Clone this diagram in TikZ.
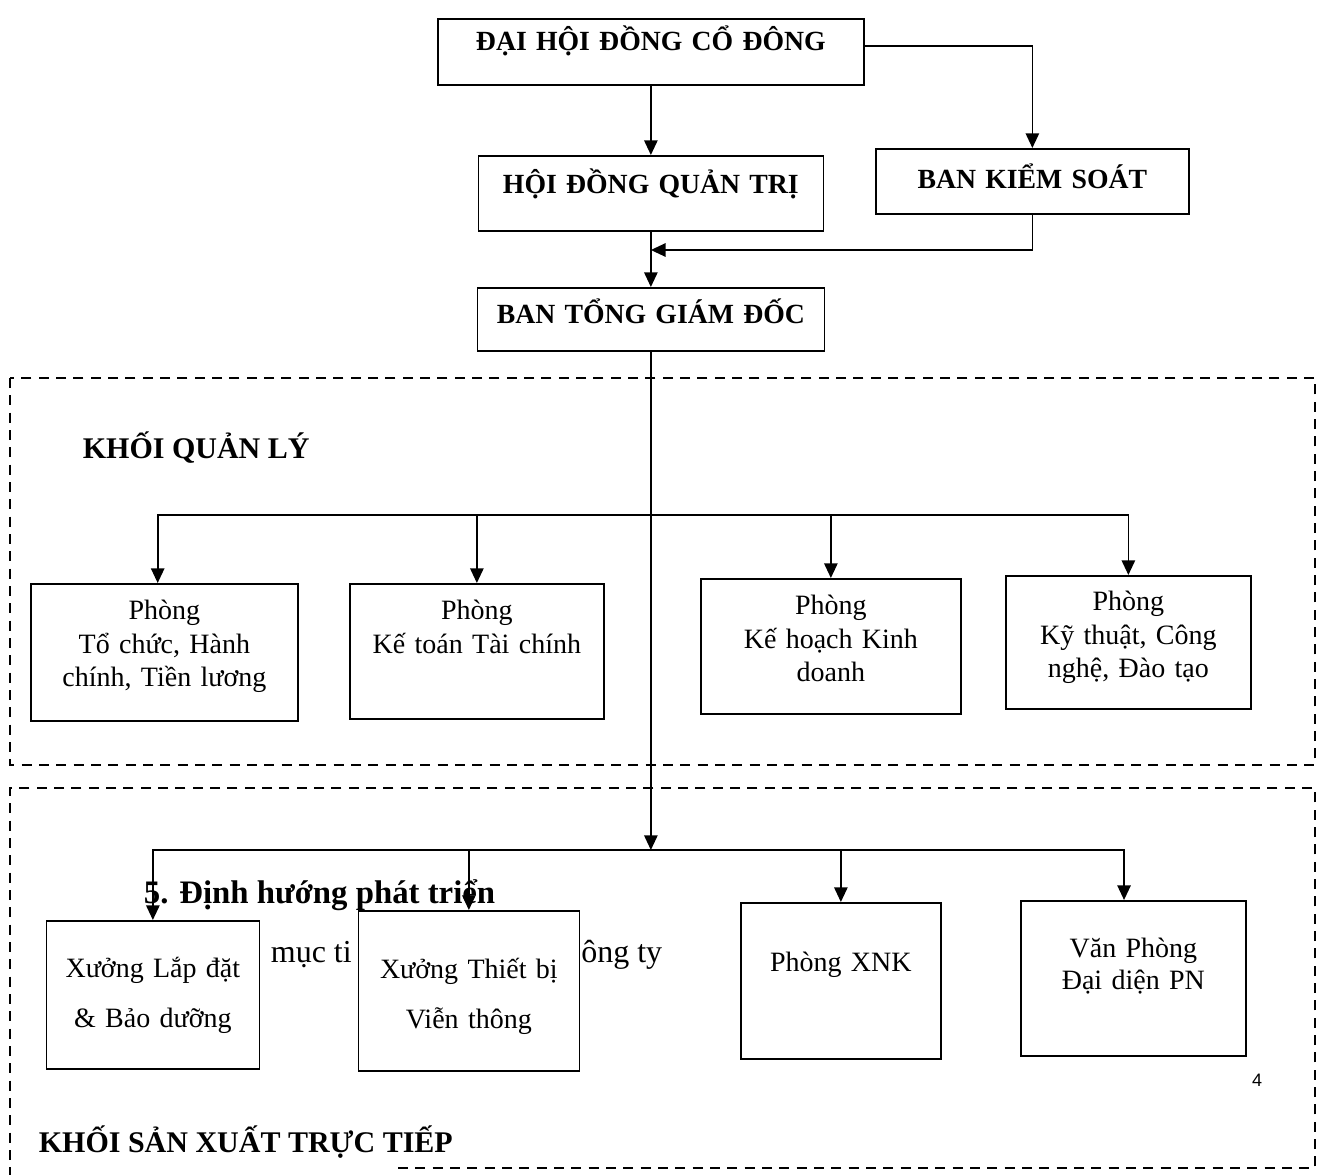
\documentclass[tikz,border=0pt]{standalone}
\usepackage{fontspec}
\setmainfont{Liberation Serif}
\newfontfamily\numfont{Liberation Sans}
\usetikzlibrary{arrows.meta,positioning}

\begin{document}
\begin{tikzpicture}[x=0.75pt,y=-0.75pt,line width=1.3pt,>={Triangle[length=11pt,width=10pt]},
	unitbox/.style={draw, fill=white, anchor=north west, inner sep=0pt, align=center},
	headbox/.style={unitbox, font=\bfseries\fontsize{20.8}{25}\selectfont},
	deptbox/.style={unitbox, font=\fontsize{21}{25}\selectfont},
	dashframe/.style={line width=1.2pt, dash pattern=on 7.5pt off 5.5pt},
	blocklabel/.style={anchor=base west, inner sep=0pt, font=\bfseries\fontsize{22.5}{27}\selectfont},
	stray/.style={inner sep=0pt, font=\fontsize{24}{29}\selectfont}]
		\useasboundingbox (0,0) rectangle (1320,1175);

		\draw[dashframe] (10,378) rectangle (1315,765);
		\draw[dashframe] (398,1168) -- (1315,1168) -- (1315,788) -- (10,788) -- (10,1175);
		\node[blocklabel] (ql) at (82,458) {KHỐI QUẢN LÝ};
		\node[blocklabel] (sx) at (38,1152) {KHỐI SẢN XUẤT TRỰC TIẾP};

		\node[stray, anchor=base west, font=\bfseries\fontsize{24.6}{29}\selectfont] (dinhhuong) at (143,903) {5. Định hướng phát triển};
		\node[stray, anchor=base west] (muctieu) at (270,962) {mục ti};
		\node[stray, anchor=base east] (congty) at (663,962) {ông ty};
		\node[stray, font=\numfont\fontsize{13.5}{16}\selectfont] (trang) at (1257,1080) {4};

		\node[headbox, text width=319.5pt, text height=24pt, text depth=25.5pt] (dhdcd) at (437,18) {ĐẠI HỘI ĐỒNG CỔ ĐÔNG};
		\node[headbox, text width=258.75pt, text height=28pt, text depth=28.25pt] (hdqt) at (477.5,155) {HỘI ĐỒNG QUẢN TRỊ};
		\node[headbox, text width=234.75pt, text height=30pt, text depth=18.75pt] (bks) at (875,148) {BAN KIỂM SOÁT};
		\node[headbox, text width=260.25pt, text height=27pt, text depth=20.25pt] (btgd) at (476.5,287) {BAN TỔNG GIÁM ĐỐC};

		\node[deptbox, text width=200.25pt, text height=27pt, text depth=75.75pt] (tochuc) at (30,583) {Phòng\\Tổ chức, Hành\\chính, Tiền lương};
		\node[deptbox, text width=190.5pt, text height=27pt, text depth=74.25pt] (ketoan) at (349,583) {Phòng\\Kế toán Tài chính};
		\node[deptbox, text width=195pt, text height=27pt, text depth=74.25pt] (kehoach) at (700,578) {Phòng\\Kế hoạch Kinh\\doanh};
		\node[deptbox, text width=183.75pt, text height=26.25pt, text depth=73.5pt] (kythuat) at (1005,575) {Phòng\\Kỹ thuật, Công\\nghệ, Đào tạo};

		\node[deptbox, font=\fontsize{21}{37}\selectfont, text width=159.75pt, text height=42.75pt, text depth=68.25pt] (lapdat) at (45.5,920) {Xưởng Lắp đặt\\\& Bảo dưỡng};
		\node[deptbox, font=\fontsize{21}{37}\selectfont, text width=165.75pt, text height=51pt, text depth=69pt] (thietbi) at (357.5,910) {Xưởng Thiết bị\\Viễn thông};
		\node[deptbox, text width=150pt, text height=51.75pt, text depth=65.25pt] (xnk) at (740,902) {Phòng XNK};
		\node[deptbox, font=\fontsize{21}{24}\selectfont, text width=168.75pt, text height=42.75pt, text depth=73.5pt] (vanphong) at (1020,900) {Văn Phòng\\Đại diện PN};

		\coordinate (feed) at (hdqt.south |- 0,250);
		\coordinate (bar1) at (btgd.south |- 0,515);
		\coordinate (bar2) at (btgd.south |- 0,850);

		\draw[->] (dhdcd.south) -- (hdqt.north);
		\draw[->] ([yshift=4.5pt]dhdcd.east) -| (bks.north);
		\draw[->] (hdqt.south) -- (btgd.north);
		\draw[->] (bks.south) |- (feed);
		\draw[->] (btgd.south) -- (bar2);

		\draw[->] (bar1) -| ([xshift=-5pt]tochuc.north);
		\draw[->] (bar1) -| (ketoan.north);
		\draw[->] (bar1) -| (kehoach.north);
		\draw[->] (bar1) -| (kythuat.north);

		\draw[->] (bar2) -| (lapdat.north);
		\draw[->] (bar2) -| (thietbi.north);
		\draw[->] (bar2) -| (xnk.north);
		\draw[->] (bar2) -| ([xshift=-7pt]vanphong.north);
	\end{tikzpicture}
\end{document}
